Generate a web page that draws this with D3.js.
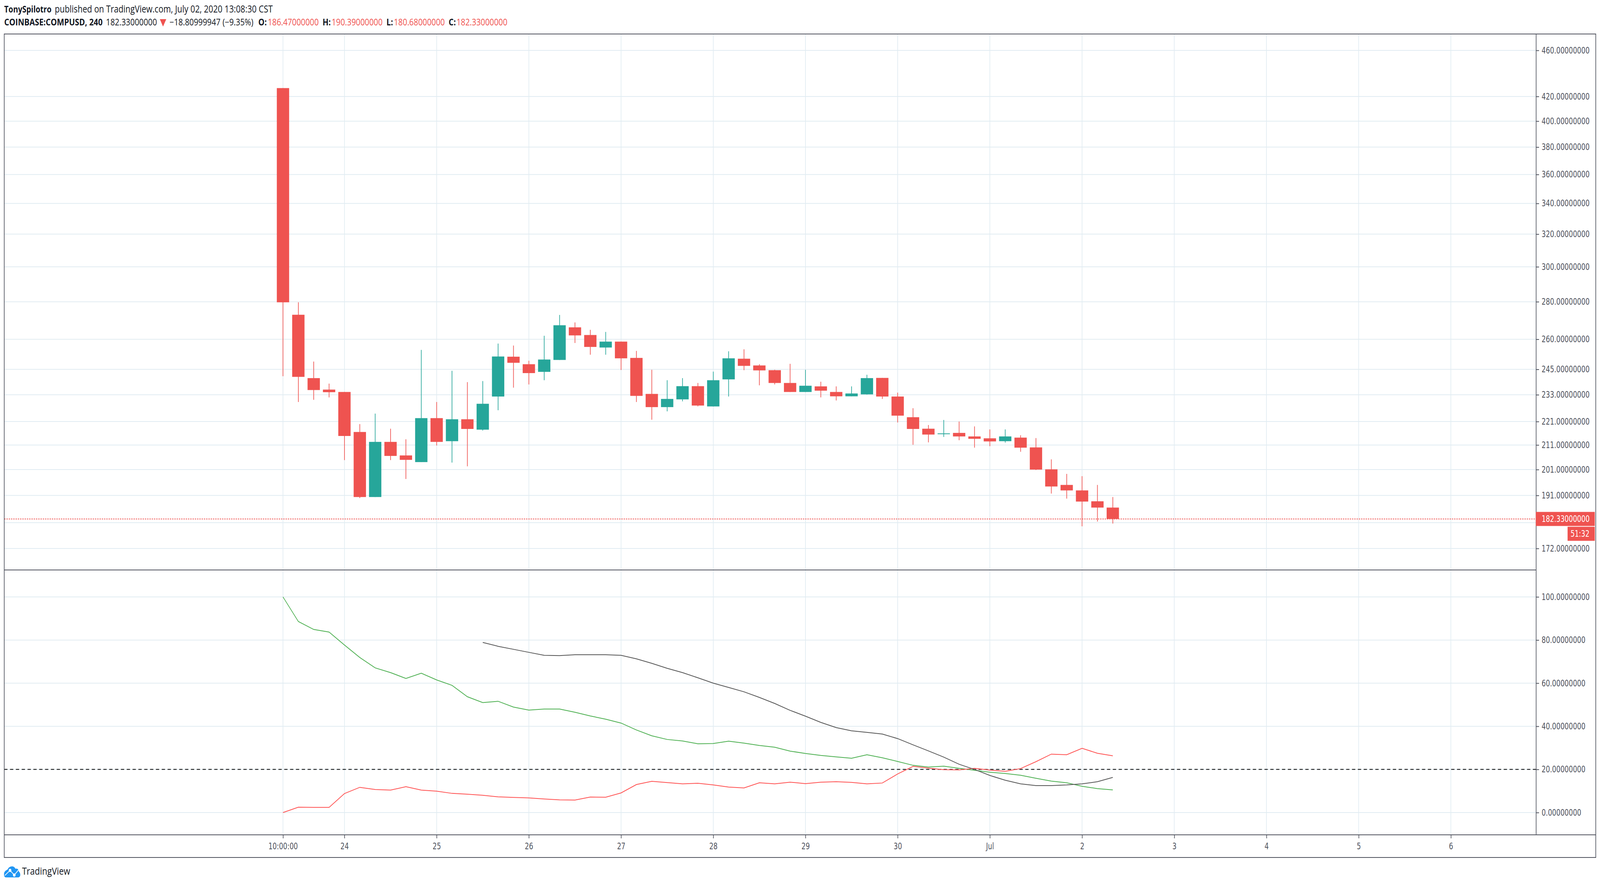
<!DOCTYPE html>
<html>
<head>
<meta charset="utf-8">
<title>COMPUSD</title>
<script src="https://cdn.jsdelivr.net/npm/d3@7"></script>
<style>
    html, body { margin: 0; background: #fff; overflow: hidden; }
    svg { display: block; }
    .head { font-family: "Open Sans"; font-size: 24px; fill: #131722; }
    .axis text { font-family: "DejaVu Sans Condensed", "DejaVu Sans"; font-stretch: condensed; font-size: 22.5px; fill: #50535e; }
    .axis line { stroke: #50535e; stroke-width: 2px; }
    .axis path { display: none; }
</style>
</head>
<body>
<!-- the window can come out narrower than asked, so the drawing always fills it -->
<svg viewBox="0 0 4936 2268" preserveAspectRatio="none" style="width:100vw;height:100vh"></svg>
<script>
// four hour candles
var opens = [427, 272.9, 240.8, 235.4, 234.3, 216.5, 190.4, 212.3, 206.7, 204.0, 222.5, 212.6, 222.0, 217.5, 232.2, 251.2, 247.5, 243.8, 249.6, 266.2, 262.2, 255.8, 258.8, 250.6, 233.4, 227.4, 230.9, 237.0, 227.7, 240.2, 250.2, 246.9, 244.6, 238.5, 234.3, 236.9, 234.3, 232.3, 233.2, 240.9, 232.2, 222.9, 217.9, 215.6, 216.1, 214.6, 213.8, 212.6, 214.1, 210.0, 201.1, 195.0, 192.9, 188.8, 186.47];
var highs = [427, 279.7, 248.8, 238.2, 234.3, 219.9, 224.5, 217.9, 213.4, 254.6, 229.7, 244.3, 238.9, 239.4, 257.8, 256.8, 249.2, 261.8, 272.8, 268.8, 264.9, 263.8, 258.8, 254.1, 244.8, 239.8, 240.8, 238.5, 243.9, 253.9, 254.9, 247.5, 244.8, 247.7, 244.8, 239.1, 236.9, 236.9, 242.4, 240.9, 234.0, 226.9, 219.5, 221.7, 221.0, 218.9, 217.6, 217.6, 215.1, 213.9, 205.1, 199.3, 198.4, 195.0, 190.39];
var lows = [241.7, 229.7, 230.7, 231.8, 204.8, 190.0, 190.4, 204.8, 197.3, 204.0, 210.8, 203.8, 202.3, 217.1, 226.0, 236.3, 237.8, 239.8, 249.6, 258.1, 252.2, 252.2, 244.7, 229.7, 221.8, 225.5, 230.0, 227.7, 227.7, 232.2, 244.6, 237.4, 237.8, 234.3, 234.3, 231.8, 230.4, 232.3, 233.1, 231.1, 220.6, 211.1, 212.1, 214.4, 213.0, 209.9, 210.5, 212.0, 208.2, 200.8, 191.7, 189.8, 179.7, 181.4, 180.68];
var closes = [279.7, 241.4, 235.2, 234.2, 214.8, 190.4, 212.3, 206.5, 204.9, 222.5, 212.3, 222.0, 217.8, 228.9, 251.3, 248.2, 243.2, 249.8, 267.3, 262.0, 256.1, 258.8, 250.4, 232.5, 227.4, 231.1, 237.0, 228.1, 239.8, 250.4, 246.7, 244.5, 238.5, 234.3, 237.2, 234.9, 232.3, 233.6, 240.8, 232.2, 223.6, 217.8, 215.4, 215.9, 214.6, 213.6, 212.5, 214.6, 209.9, 201.0, 194.4, 192.9, 188.7, 186.47, 182.33];

// oscillator pane
var minusDI = [100, 88.6, 84.9, 83.7, 77.7, 71.9, 67.1, 64.9, 62.2, 64.6, 61.5, 59.0, 53.7, 51.0, 51.6, 48.9, 47.5, 48.0, 48.0, 46.5, 44.8, 43.3, 41.5, 38.3, 35.6, 33.9, 33.2, 31.9, 32.0, 33.1, 32.2, 31.1, 30.3, 28.5, 27.4, 26.5, 25.8, 25.2, 26.8, 25.4, 23.7, 21.9, 21.1, 21.5, 20.5, 19.6, 18.7, 18.1, 17.3, 15.9, 14.6, 13.8, 12.2, 11.1, 10.5];
var plusDI = [0, 2.5, 2.4, 2.4, 8.8, 11.7, 10.7, 10.4, 12.0, 10.4, 9.9, 8.9, 8.5, 8.0, 7.3, 7.0, 6.8, 6.3, 5.9, 5.8, 7.2, 7.1, 9.1, 13.0, 14.5, 13.9, 13.3, 13.6, 12.8, 11.8, 11.4, 13.8, 13.3, 14.1, 13.4, 14.1, 14.3, 14.0, 13.3, 13.7, 17.9, 21.4, 20.6, 19.9, 19.8, 20.5, 19.7, 19.1, 20.4, 23.6, 27.1, 26.8, 29.8, 27.5, 26.3];
var adx = [null, null, null, null, null, null, null, null, null, null, null, null, null, 78.9, 77.1, 75.7, 74.3, 72.9, 72.8, 73.2, 73.2, 73.2, 72.9, 71.3, 69.2, 66.9, 64.9, 62.5, 60.0, 58.0, 56.0, 53.4, 50.6, 47.4, 44.7, 41.8, 39.4, 37.9, 37.2, 36.4, 34.3, 31.4, 28.6, 25.7, 22.4, 20.0, 17.2, 15.0, 13.3, 12.5, 12.5, 12.8, 13.3, 14.3, 16.3];

var priceTicks = [460, 420, 400, 380, 360, 340, 320, 300, 280, 260, 245, 233, 221, 211, 201, 191, 181, 172];
var oscTicks = [100, 80, 60, 40, 20, 0];
var timeTicks = [0, 4, 10, 16, 22, 28, 34, 40, 46, 52, 58, 64, 70, 76];
var timeLabels = ['10:00:00', '24', '25', '26', '27', '28', '29', '30', 'Jul', '2', '3', '4', '5', '6'];
var lastPrice = 182.33;
var dmiLevel = 20;

var RED = '#ef5350', GREEN = '#26a69a', FRAME = '#50535e', GRID = '#e1ecf2';

var svg = d3.select('svg');

// frame layout (window.top is read only, so no plain "top" here)
var frame = { l: 13, r: 4923, t: 87, b: 2195 };
var axisX = 4739, paneY = 1459, timeY = 2137;

// scales
var x = d3.scaleLinear().domain([0, 54]).range([873, 3433]);
var yPrice = d3.scaleLog().domain([172, 460]).range([1404, 129]);
var yOsc = d3.scaleLinear().domain([0, 100]).range([2080, 1528]);

var barWidth = 38;

// grid lines
var gridG = svg.append('g').attr('stroke', GRID).attr('stroke-width', 2);
gridG.selectAll('.v1').data(timeTicks).enter().append('line')
    .attr('class', 'v1')
    .attr('x1', d => x(d)).attr('x2', d => x(d)).attr('y1', frame.t).attr('y2', timeY);
gridG.selectAll('.h1').data(priceTicks).enter().append('line')
    .attr('class', 'h1')
    .attr('x1', frame.l).attr('x2', axisX).attr('y1', d => yPrice(d)).attr('y2', d => yPrice(d));
gridG.selectAll('.h2').data(oscTicks).enter().append('line')
    .attr('class', 'h2')
    .attr('x1', frame.l).attr('x2', axisX).attr('y1', d => yOsc(d)).attr('y2', d => yOsc(d));

// candles
var candles = svg.append('g').selectAll('g').data(opens).enter().append('g')
    .attr('fill', (d, i) => closes[i] >= d ? GREEN : RED);
candles.append('rect')
    .attr('x', (d, i) => x(i) - 1)
    .attr('width', 2)
    .attr('y', (d, i) => yPrice(highs[i]))
    .attr('height', (d, i) => yPrice(lows[i]) - yPrice(highs[i]));
candles.append('rect')
    .attr('x', (d, i) => x(i) - barWidth / 2)
    .attr('width', barWidth)
    .attr('y', (d, i) => yPrice(Math.max(d, closes[i])))
    .attr('height', (d, i) => Math.max(2, Math.abs(yPrice(d) - yPrice(closes[i]))));

// last price line
svg.append('line')
    .attr('x1', frame.l).attr('x2', axisX + 7)
    .attr('y1', yPrice(lastPrice)).attr('y2', yPrice(lastPrice))
    .attr('stroke', RED).attr('stroke-width', 2).attr('stroke-dasharray', '4 3');

// level line of the oscillator
svg.append('line')
    .attr('x1', frame.l).attr('x2', axisX)
    .attr('y1', yOsc(dmiLevel)).attr('y2', yOsc(dmiLevel))
    .attr('stroke', '#000').attr('stroke-width', 2).attr('stroke-dasharray', '10 8');

// oscillator lines
var line = d3.line().defined(d => d !== null).x((d, i) => x(i)).y(d => yOsc(d));
[[minusDI, '#4caf50'], [plusDI, '#ff5252'], [adx, '#555555']].forEach(function(s) {
    svg.append('path').datum(s[0])
        .attr('d', line)
        .attr('fill', 'none')
        .attr('stroke', s[1])
        .attr('stroke-width', 2);
});

// axes
svg.append('g').attr('class', 'axis').attr('transform', `translate(${axisX},0)`)
    .call(d3.axisRight(yPrice).tickValues(priceTicks).tickFormat(d3.format('.8f')).tickSize(9).tickPadding(8));
svg.append('g').attr('class', 'axis').attr('transform', `translate(${axisX},0)`)
    .call(d3.axisRight(yOsc).tickValues(oscTicks).tickFormat(d3.format('.8f')).tickSize(9).tickPadding(8));
svg.append('g').attr('class', 'axis').attr('transform', `translate(0,${timeY})`)
    .call(d3.axisBottom(x).tickValues(timeTicks).tickFormat((d, i) => timeLabels[i]).tickSize(9).tickPadding(12));

// frame
svg.append('rect')
    .attr('x', frame.l).attr('y', frame.t).attr('width', frame.r - frame.l).attr('height', frame.b - frame.t)
    .attr('fill', 'none').attr('stroke', FRAME).attr('stroke-width', 2);
[[frame.l, axisX, paneY, paneY], [frame.l, frame.r, timeY, timeY], [axisX, axisX, frame.t, timeY]].forEach(function(l) {
    svg.append('line')
        .attr('x1', l[0]).attr('x2', l[1]).attr('y1', l[2]).attr('y2', l[3])
        .attr('stroke', FRAME).attr('stroke-width', 2);
});

// last price and countdown labels
var labelG = svg.append('g');
labelG.append('rect').attr('x', axisX - 1).attr('y', yPrice(lastPrice) - 18).attr('width', 182).attr('height', 36).attr('fill', RED);
labelG.append('rect').attr('x', 4836).attr('y', yPrice(lastPrice) + 20).attr('width', 84).attr('height', 36).attr('fill', RED);
labelG.selectAll('text').data([[4756, 0, d3.format('.8f')(lastPrice)], [4845, 38, '51:32']]).enter().append('text')
    .attr('x', d => d[0])
    .attr('y', d => yPrice(lastPrice) + d[1])
    .attr('dy', '0.34em')
    .style('font-family', '"DejaVu Sans Condensed", "DejaVu Sans"').style('font-stretch', 'condensed')
    .style('font-size', '22.5px').attr('fill', '#fff')
    .text(d => d[2]);

// header, pieces of text are placed one by one
var headItems = [
    [13, 32, 'TonySpilotro', 700, '#131722', 23],
    [169, 32, 'published on TradingView.com, July 02, 2020 13:08:30 CST', 400, '#131722', 25],
    [13, 65, 'COINBASE:COMPUSD, 240', 700, '#131722', 24],
    [327, 65, '182.33000000', 400, '#131722', 24],
    [523, 65, '\u221218.80999947 (\u22129.35%)', 400, '#131722', 24],
    [797, 65, 'O:', 700, '#131722', 24],
    [826, 65, '186.47000000', 400, RED, 24],
    [995, 65, 'H:', 700, '#131722', 24],
    [1023, 65, '190.39000000', 400, RED, 24],
    [1192, 65, 'L:', 700, '#131722', 24],
    [1215, 65, '180.68000000', 400, RED, 24],
    [1384, 65, 'C:', 700, '#131722', 24],
    [1408, 65, '182.33000000', 400, RED, 24]
];
svg.append('g').selectAll('text').data(headItems).enter().append('text')
    .attr('class', 'head')
    .attr('x', d => d[0]).attr('y', d => d[1])
    .attr('font-weight', d => d[3])
    .style('fill', d => d[4])
    .style('font-size', d => d[5] + 'px')
    .text(d => d[2]);
svg.append('path').attr('d', 'M493 49H513L503 68Z').attr('fill', RED);

// TradingView logo
var logo = svg.append('g');
logo.append('path')
    .attr('d', 'M18 2246C12 2246 11 2236 14 2232C17 2228 22 2227 24 2225C28 2217 42 2214 48 2224C55 2222 59 2228 58 2231C64 2234 65 2246 56 2246Z')
    .attr('fill', '#2196f3');
logo.append('path')
    .attr('d', 'M15 2241L31 2228L44 2240L58 2226')
    .attr('fill', 'none').attr('stroke', '#fff').attr('stroke-width', 2);
logo.selectAll('circle').data([[31, 2228], [44, 2240]]).enter().append('circle')
    .attr('cx', d => d[0]).attr('cy', d => d[1]).attr('r', 4).attr('fill', '#fff');
svg.append('text').attr('class', 'head')
    .attr('x', 68).attr('y', 2239)
    .style('font-size', '26px')
    .text('TradingView');
</script>
</body>
</html>
